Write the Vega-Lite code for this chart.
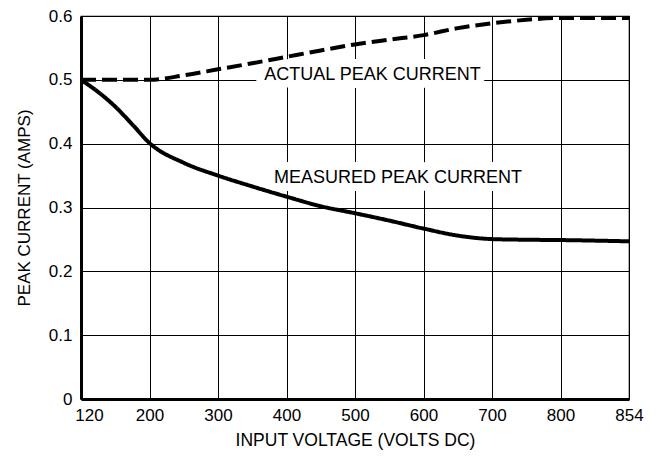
{
  "$schema": "https://vega.github.io/schema/vega-lite/v6.json",
  "width": 548,
  "height": 383,
  "autosize": {"type": "none"},
  "padding": {"left": 81, "top": 16, "right": 28, "bottom": 62},
  "background": "white",
  "config": {
    "font": "Liberation Sans",
    "view": {"stroke": "black", "strokeWidth": 1.2}
  },
  "datasets": {
    "curves": [
      {"series": "Measured", "volts": 120, "amps": 0.5},
      {"series": "Measured", "volts": 140, "amps": 0.481},
      {"series": "Measured", "volts": 160, "amps": 0.458},
      {"series": "Measured", "volts": 180, "amps": 0.43},
      {"series": "Measured", "volts": 200, "amps": 0.401},
      {"series": "Measured", "volts": 250, "amps": 0.37},
      {"series": "Measured", "volts": 300, "amps": 0.35},
      {"series": "Measured", "volts": 350, "amps": 0.333},
      {"series": "Measured", "volts": 400, "amps": 0.317},
      {"series": "Measured", "volts": 450, "amps": 0.302},
      {"series": "Measured", "volts": 500, "amps": 0.291},
      {"series": "Measured", "volts": 550, "amps": 0.2795},
      {"series": "Measured", "volts": 600, "amps": 0.267},
      {"series": "Measured", "volts": 650, "amps": 0.256},
      {"series": "Measured", "volts": 700, "amps": 0.2505},
      {"series": "Measured", "volts": 750, "amps": 0.2495},
      {"series": "Measured", "volts": 800, "amps": 0.249},
      {"series": "Measured", "volts": 854, "amps": 0.247},
      {"series": "Actual", "volts": 120, "amps": 0.5},
      {"series": "Actual", "volts": 160, "amps": 0.5},
      {"series": "Actual", "volts": 200, "amps": 0.5},
      {"series": "Actual", "volts": 250, "amps": 0.507},
      {"series": "Actual", "volts": 300, "amps": 0.5165},
      {"series": "Actual", "volts": 350, "amps": 0.526},
      {"series": "Actual", "volts": 400, "amps": 0.536},
      {"series": "Actual", "volts": 450, "amps": 0.546},
      {"series": "Actual", "volts": 500, "amps": 0.5555},
      {"series": "Actual", "volts": 550, "amps": 0.563},
      {"series": "Actual", "volts": 600, "amps": 0.57},
      {"series": "Actual", "volts": 650, "amps": 0.581},
      {"series": "Actual", "volts": 700, "amps": 0.5885},
      {"series": "Actual", "volts": 750, "amps": 0.594},
      {"series": "Actual", "volts": 800, "amps": 0.597},
      {"series": "Actual", "volts": 854, "amps": 0.597}
    ],
    "labels": [
      {"label": "ACTUAL PEAK CURRENT", "volts": 525.5, "amps": 0.5},
      {"label": "MEASURED PEAK CURRENT", "volts": 562.8, "amps": 0.338}
    ]
  },
  "layer": [
    {
      "data": {"name": "labels"},
      "mark": {"type": "text", "fill": "white", "stroke": "white", "strokeWidth": 16, "strokeJoin": "round", "fontSize": 18, "align": "center", "baseline": "alphabetic"},
      "encoding": {
        "x": {
          "field": "volts", "type": "quantitative",
          "scale": {"domain": [120, 200, 300, 400, 500, 600, 700, 800, 854], "range": [0, 68.5, 137, 205.5, 274, 342.5, 411, 479.5, 548], "nice": false, "zero": false},
          "axis": {
            "values": [120, 200, 300, 400, 500, 600, 700, 800, 854],
            "title": "INPUT VOLTAGE (VOLTS DC)",
            "grid": true, "gridColor": "black", "gridWidth": 1, "gridOpacity": 1,
            "domainColor": "black", "domainWidth": 3,
            "ticks": false, "tickSize": 0,
            "labelFlush": false, "labelOverlap": false,
            "labelPadding": 8, "labelFontSize": 17, "labelColor": "black",
            "labelOffset": {"condition": {"test": "datum.value == 120", "value": 8}, "value": 0},
            "titleFontSize": 17.5, "titleFontWeight": "normal", "titleColor": "black", "titlePadding": 8
          }
        },
        "y": {
          "field": "amps", "type": "quantitative",
          "scale": {"domain": [0, 0.6], "nice": false, "zero": false},
          "axis": {
            "values": [0, 0.1, 0.2, 0.3, 0.4, 0.5, 0.6],
            "format": ".1~f",
            "title": "PEAK CURRENT (AMPS)",
            "grid": true, "gridColor": "black", "gridWidth": 1, "gridOpacity": 1,
            "domainColor": "black", "domainWidth": 3,
            "ticks": false, "tickSize": 0,
            "labelFlush": false, "labelOverlap": false,
            "labelPadding": 9, "labelFontSize": 17, "labelColor": "black",
            "titleFontSize": 17, "titleFontWeight": "normal", "titleColor": "black", "titlePadding": 15
          }
        },
        "text": {"field": "label", "type": "nominal"}
      }
    },
    {
      "data": {"name": "curves"},
      "mark": {"type": "line", "interpolate": "monotone", "color": "black", "strokeWidth": 4},
      "encoding": {
        "x": {"field": "volts", "type": "quantitative"},
        "y": {"field": "amps", "type": "quantitative"},
        "strokeDash": {"field": "series", "type": "nominal", "scale": {"domain": ["Actual", "Measured"], "range": [[15, 6], [1, 0]]}, "legend": null}
      }
    },
    {
      "data": {"name": "labels"},
      "mark": {"type": "text", "color": "black", "fontSize": 18, "align": "center", "baseline": "alphabetic"},
      "encoding": {
        "x": {"field": "volts", "type": "quantitative"},
        "y": {"field": "amps", "type": "quantitative"},
        "text": {"field": "label", "type": "nominal"}
      }
    }
  ]
}
